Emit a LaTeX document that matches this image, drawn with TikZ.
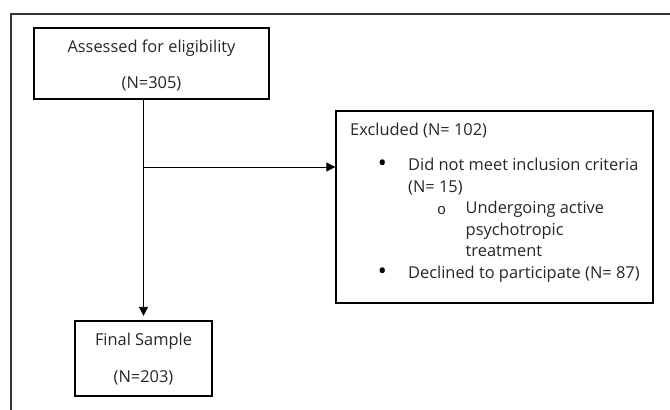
\documentclass[tikz,border=0pt]{standalone}
\usepackage{fontspec}
\setmainfont{Open Sans}
\setmonofont{Liberation Mono}
\usetikzlibrary{positioning, arrows.meta}

\begin{document}
\begin{tikzpicture}[x=1pt, y=-1pt,
        box/.style={draw, line width=1.3pt, inner sep=0pt},
        txt/.style={inner sep=0pt, text=black!85, font=\fontsize{16.4}{19}\selectfont},
        dot/.style={inner sep=0pt, font=\fontsize{24}{24}\selectfont},
        flow/.style={line width=0.8pt, -{Triangle[length=9pt, width=9pt]}}]
        \useasboundingbox (0,0) rectangle (670,410);
        % frame round the figure
        \draw[line width=1.3pt, black!80] (11,410) -- (11,14) -- (670,14);

        \node[box, minimum width=235pt, minimum height=71pt] (assessed) at (151.5,63.5) {};
        \node[box, minimum width=317pt, minimum height=192pt] (excluded) at (494.5,207) {};
        \node[box, minimum width=137pt, minimum height=75pt] (final) at (143.5,358.5) {};

        \node[txt, anchor=base] (assessedtxt) at (151.5,52.7) {Assessed for eligibility};
        \node[txt, anchor=base] (assessedn) at (151.5,88.3) {(N=305)};
        \node[txt, anchor=base] (finaltxt) at (143.5,345.7) {Final Sample};
        \node[txt, anchor=base] (finaln) at (143.5,382) {(N=203)};

        \node[txt, anchor=base west] (exctxt) at (350,135.7) {Excluded (N= 102)};
        \node[dot] (bulleta) at (382.3,165.7) {•};
        \node[txt, anchor=base west] (crita) at (408,170.5) {Did not meet inclusion criteria};
        \node[txt, anchor=base west] (critb) at (408,192) {(N= 15)};
        \node[txt] (subbullet) at (441.7,210.5) {\fontsize{15}{15}\ttfamily o};
        \node[txt, anchor=base west] (treata) at (465.5,213.5) {Undergoing active};
        \node[txt, anchor=base west] (treatb) at (465.5,235) {psychotropic};
        \node[txt, anchor=base west] (treatc) at (465.5,256.5) {treatment};
        \node[dot] (bulletb) at (382.3,273.2) {•};
        \node[txt, anchor=base west] (declined) at (408,278) {Declined to participate (N= 87)};

        \coordinate (split) at (final.north |- 0,167);
        \draw[line width=0.8pt] (assessed.south -| final.north) -- (split);
        \draw[flow, shorten >=4.5pt] (split) -- (final.north);
        \draw[flow] (split) -- (split -| excluded.west);
    \end{tikzpicture}
\end{document}
